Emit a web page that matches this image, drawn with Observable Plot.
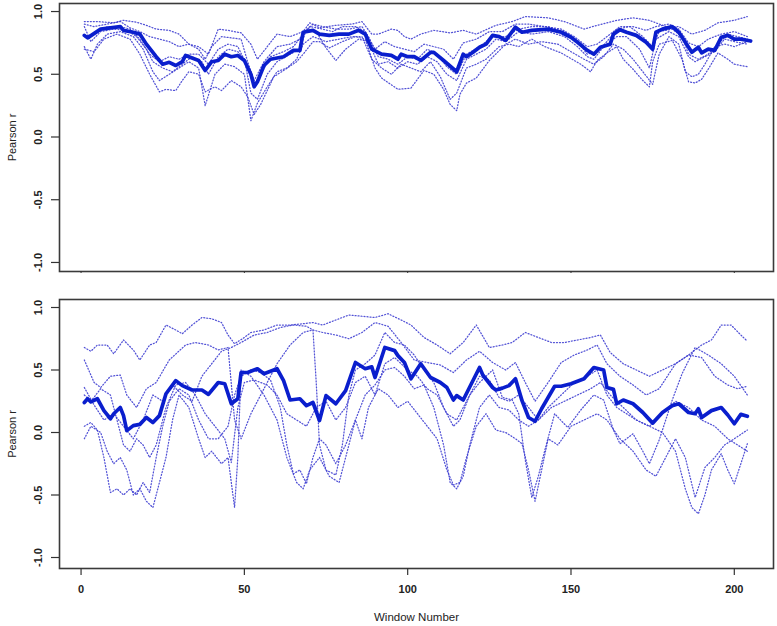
<!DOCTYPE html>
<html><head><meta charset="utf-8">
<script src="https://cdn.jsdelivr.net/npm/d3@7"></script>
<script src="https://cdn.jsdelivr.net/npm/@observablehq/plot@0.6"></script>
<style>
html,body{margin:0;padding:0;background:#fff;}
#chart svg{display:block;}
</style></head><body><div id="chart"></div>
<script>
// ---- shared tick values ----
const windowTicks = [0, 50, 100, 150, 200];
const rTicks = [-1, -0.5, 0, 0.5, 1];
const yLabel = "Pearson r";
const xLabel = "Window Number";

// ---- TOP PANEL: mean (thick) ----
const topMean = [[1,0.81],[2,0.79],[6,0.86],[9,0.87],[12,0.88],[13,0.85],[16,0.835],[18,0.82],[20,0.74],[23,0.64],[25,0.58],[27,0.595],[29,0.57],[31,0.60],[32,0.65],[34,0.63],[36,0.61],[38,0.53],[40,0.60],[42,0.61],[44,0.66],[46,0.64],[48,0.65],[50,0.61],[52,0.50],[53,0.40],[54,0.44],[56,0.57],[58,0.62],[62,0.64],[65,0.69],[67,0.69],[68,0.835],[71,0.85],[73,0.82],[76,0.81],[79,0.82],[82,0.82],[85,0.85],[87,0.82],[89,0.70],[92,0.66],[95,0.65],[97,0.62],[98,0.66],[100,0.64],[102,0.64],[104,0.61],[107,0.675],[108,0.675],[111,0.61],[115,0.52],[117,0.66],[118,0.64],[120,0.675],[122,0.715],[124,0.74],[126,0.81],[128,0.80],[130,0.77],[133,0.875],[135,0.835],[138,0.85],[143,0.86],[147,0.835],[150,0.795],[152,0.755],[155,0.69],[157,0.66],[159,0.715],[162,0.74],[163,0.82],[165,0.855],[167,0.835],[170,0.81],[173,0.755],[175,0.70],[176,0.835],[178,0.86],[181,0.88],[183,0.835],[185,0.755],[187,0.675],[189,0.715],[190,0.67],[192,0.70],[194,0.69],[196,0.795],[198,0.81],[200,0.78],[202,0.78],[205,0.765]];

// ---- TOP PANEL: individual series (dotted) ----
const topSeries1 = [[1,0.92],[5,0.92],[10,0.91],[13,0.93],[17,0.915],[20,0.89],[23,0.86],[27,0.85],[30,0.82],[33,0.74],[36,0.72],[39,0.66],[42,0.86],[45,0.85],[49,0.83],[52,0.74],[54,0.62],[57,0.72],[60,0.82],[64,0.80],[68,0.84],[70,0.91],[73,0.87],[78,0.89],[83,0.90],[86,0.92],[89,0.82],[91,0.82],[95,0.86],[97,0.85],[99,0.80],[101,0.78],[104,0.82],[108,0.85],[113,0.83],[117,0.85],[121,0.82],[127,0.89],[132,0.92],[136,0.96],[143,0.95],[148,0.92],[154,0.86],[158,0.89],[164,0.93],[169,0.95],[174,0.93],[179,0.88],[183,0.88],[187,0.82],[191,0.85],[195,0.91],[200,0.93],[204,0.96]];
const topSeries2 = [[1,0.90],[4,0.88],[8,0.90],[12,0.92],[15,0.87],[18,0.84],[21,0.80],[24,0.78],[27,0.76],[30,0.72],[33,0.74],[36,0.70],[38,0.62],[40,0.72],[43,0.80],[46,0.79],[49,0.78],[51,0.60],[53,0.45],[56,0.60],[60,0.72],[64,0.74],[67,0.78],[70,0.88],[74,0.86],[77,0.84],[80,0.88],[84,0.88],[87,0.84],[90,0.70],[93,0.76],[96,0.72],[99,0.70],[102,0.68],[105,0.74],[108,0.72],[111,0.70],[114,0.62],[117,0.75],[121,0.78],[125,0.84],[129,0.84],[133,0.90],[137,0.90],[142,0.88],[147,0.86],[151,0.80],[155,0.72],[158,0.74],[162,0.82],[165,0.88],[169,0.88],[173,0.85],[176,0.88],[180,0.90],[183,0.86],[186,0.75],[189,0.72],[192,0.78],[196,0.82],[200,0.84],[204,0.80]];
const topSeries3 = [[1,0.88],[3,0.76],[6,0.84],[10,0.86],[14,0.85],[17,0.80],[20,0.70],[22,0.60],[25,0.55],[28,0.52],[31,0.58],[34,0.64],[37,0.60],[39,0.50],[42,0.64],[45,0.70],[48,0.68],[50,0.62],[52,0.35],[54,0.30],[57,0.50],[60,0.60],[64,0.66],[67,0.70],[69,0.86],[72,0.84],[75,0.71],[78,0.61],[81,0.70],[85,0.78],[88,0.76],[91,0.58],[94,0.60],[97,0.55],[100,0.60],[103,0.58],[106,0.64],[109,0.60],[112,0.50],[115,0.45],[118,0.62],[121,0.66],[124,0.70],[127,0.78],[130,0.76],[134,0.84],[138,0.82],[143,0.84],[148,0.80],[152,0.72],[155,0.64],[157,0.62],[160,0.72],[164,0.80],[167,0.80],[171,0.70],[174,0.55],[176,0.78],[180,0.84],[183,0.80],[186,0.64],[188,0.60],[191,0.64],[194,0.68],[197,0.78],[200,0.76],[204,0.74]];
const topSeries4 = [[1,0.72],[3,0.62],[5,0.74],[8,0.82],[12,0.84],[16,0.80],[19,0.70],[22,0.52],[24,0.45],[27,0.50],[30,0.55],[33,0.60],[36,0.55],[38,0.25],[41,0.50],[44,0.58],[47,0.56],[50,0.50],[52,0.13],[54,0.27],[57,0.40],[60,0.52],[63,0.55],[66,0.62],[68,0.74],[71,0.80],[75,0.76],[79,0.78],[83,0.80],[86,0.80],[89,0.62],[92,0.55],[95,0.50],[98,0.58],[101,0.55],[104,0.52],[107,0.60],[110,0.48],[113,0.30],[115,0.35],[118,0.55],[121,0.58],[124,0.62],[128,0.72],[131,0.74],[134,0.72],[138,0.78],[142,0.72],[147,0.67],[153,0.58],[156,0.52],[158,0.61],[161,0.67],[164,0.72],[166,0.62],[169,0.54],[172,0.45],[174,0.40],[175,0.60],[177,0.74],[181,0.77],[184,0.62],[186,0.44],[188,0.43],[190,0.46],[192,0.54],[195,0.67],[198,0.62],[200,0.58],[204,0.56]];
const topSeries5 = [[1,0.70],[4,0.68],[7,0.78],[11,0.82],[15,0.78],[18,0.66],[21,0.50],[24,0.36],[26,0.38],[29,0.37],[31,0.45],[33,0.52],[36,0.50],[38,0.36],[41,0.40],[43,0.37],[46,0.45],[49,0.40],[51,0.32],[53,0.18],[55,0.26],[57,0.37],[59,0.48],[62,0.53],[66,0.60],[68,0.66],[71,0.76],[73,0.76],[76,0.71],[80,0.76],[84,0.80],[87,0.78],[90,0.55],[92,0.47],[97,0.38],[101,0.39],[103,0.46],[105,0.53],[108,0.50],[111,0.38],[113,0.26],[115,0.21],[116,0.34],[118,0.43],[121,0.47],[125,0.61],[130,0.74],[133,0.78],[137,0.74],[141,0.76],[146,0.74],[150,0.68],[154,0.62],[157,0.58],[160,0.64],[163,0.74],[166,0.70],[169,0.62],[172,0.52],[175,0.42],[177,0.66],[180,0.80],[183,0.74],[185,0.52],[187,0.48],[189,0.50],[191,0.58],[194,0.72],[197,0.74],[200,0.72],[204,0.76]];
const topSeries6 = [[1,0.80],[4,0.82],[8,0.88],[12,0.88],[15,0.86],[18,0.78],[21,0.66],[24,0.60],[27,0.64],[30,0.62],[33,0.66],[36,0.66],[39,0.58],[42,0.70],[45,0.74],[48,0.72],[51,0.56],[53,0.42],[55,0.50],[58,0.64],[62,0.68],[65,0.72],[68,0.82],[71,0.90],[74,0.88],[78,0.86],[82,0.86],[86,0.88],[88,0.80],[91,0.64],[94,0.62],[97,0.58],[100,0.64],[103,0.62],[106,0.70],[109,0.66],[112,0.56],[115,0.50],[118,0.66],[122,0.72],[126,0.80],[130,0.80],[134,0.86],[138,0.88],[143,0.88],[148,0.84],[152,0.76],[155,0.66],[158,0.68],[161,0.76],[164,0.86],[168,0.88],[172,0.80],[175,0.72],[177,0.84],[181,0.86],[184,0.80],[186,0.66],[189,0.62],[192,0.66],[195,0.74],[198,0.82],[201,0.80],[204,0.78]];

// ---- BOTTOM PANEL: mean (thick) ----
const bottomMean = [[1,0.24],[2,0.27],[3,0.245],[5,0.27],[7,0.175],[9,0.11],[10,0.15],[12,0.2],[13,0.135],[14,0.015],[16,0.055],[18,0.065],[20,0.12],[22,0.08],[24,0.135],[26,0.31],[29,0.415],[31,0.375],[34,0.34],[37,0.34],[39,0.305],[42,0.40],[44,0.39],[46,0.23],[48,0.27],[49,0.48],[51,0.48],[54,0.51],[56,0.47],[60,0.51],[62,0.415],[64,0.26],[67,0.27],[69,0.215],[71,0.24],[73,0.096],[75,0.295],[78,0.23],[81,0.335],[84,0.56],[87,0.51],[89,0.525],[90,0.44],[93,0.68],[96,0.655],[97,0.615],[99,0.56],[101,0.43],[104,0.55],[107,0.44],[110,0.40],[112,0.36],[114,0.26],[115,0.295],[117,0.26],[122,0.52],[123,0.46],[126,0.36],[127,0.34],[129,0.355],[131,0.375],[133,0.43],[135,0.255],[137,0.12],[139,0.09],[141,0.19],[145,0.37],[147,0.37],[150,0.39],[154,0.43],[157,0.52],[160,0.50],[161,0.36],[163,0.345],[164,0.23],[166,0.26],[169,0.23],[172,0.16],[175,0.075],[178,0.16],[181,0.215],[183,0.23],[186,0.16],[188,0.15],[189,0.19],[190,0.12],[193,0.175],[196,0.2],[198,0.14],[200,0.07],[202,0.145],[204,0.13]];

// ---- BOTTOM PANEL: individual series (dotted) ----
const bottomSeries1 = [[1,0.68],[3,0.65],[5,0.70],[8,0.70],[10,0.63],[13,0.74],[16,0.66],[18,0.58],[21,0.70],[23,0.72],[26,0.86],[29,0.82],[31,0.79],[34,0.86],[37,0.92],[40,0.91],[43,0.88],[45,0.78],[47,0.71],[50,0.76],[52,0.80],[56,0.82],[60,0.86],[64,0.86],[68,0.87],[71,0.88],[74,0.86],[78,0.90],[82,0.94],[86,0.93],[90,0.92],[94,0.95],[98,0.90],[101,0.86],[105,0.76],[109,0.70],[113,0.63],[117,0.72],[121,0.86],[125,0.68],[129,0.70],[132,0.72],[136,0.80],[140,0.76],[144,0.72],[148,0.72],[152,0.74],[156,0.76],[159,0.78],[162,0.64],[166,0.55],[170,0.50],[174,0.45],[178,0.50],[182,0.55],[186,0.62],[190,0.70],[193,0.74],[196,0.86],[199,0.86],[202,0.78],[204,0.73]];
const bottomSeries2 = [[1,0.58],[4,0.40],[6,0.36],[9,0.45],[12,0.46],[14,0.30],[17,0.20],[20,0.35],[23,0.40],[27,0.58],[32,0.70],[35,0.72],[39,0.70],[42,0.66],[45,0.68],[47,0.10],[49,-0.05],[52,0.15],[56,0.35],[60,0.55],[64,0.70],[68,0.80],[71,0.82],[74,0.80],[78,0.78],[82,0.75],[86,0.80],[90,0.88],[94,0.85],[98,0.72],[102,0.58],[106,0.56],[110,0.54],[114,0.48],[118,0.58],[122,0.65],[126,0.56],[130,0.50],[133,0.56],[136,0.40],[139,0.25],[143,0.40],[147,0.56],[151,0.62],[155,0.66],[158,0.70],[161,0.55],[165,0.45],[169,0.38],[173,0.30],[177,0.35],[182,0.55],[186,0.62],[190,0.60],[194,0.45],[198,0.38],[201,0.35],[204,0.37]];
const bottomSeries3 = [[1,0.36],[4,0.22],[7,0.10],[10,0.15],[13,0.05],[16,-0.05],[19,0.10],[22,0.30],[25,0.25],[28,0.38],[31,0.30],[34,0.25],[37,0.45],[40,0.55],[43,0.65],[46,0.68],[49,0.72],[53,0.78],[57,0.80],[61,0.84],[65,0.86],[69,0.85],[71,0.82],[72,0.40],[73,-0.10],[75,-0.30],[78,-0.34],[80,-0.10],[82,0.30],[84,0.50],[87,0.55],[90,0.62],[93,0.80],[96,0.72],[99,0.70],[102,0.62],[105,0.50],[108,0.40],[111,0.20],[114,0.05],[116,0.10],[119,0.30],[122,0.40],[126,0.50],[129,0.28],[132,0.26],[134,0.15],[136,-0.22],[138,-0.52],[140,-0.35],[142,-0.14],[145,0.15],[149,0.04],[153,0.18],[157,0.30],[160,0.26],[163,0.02],[165,-0.09],[169,-0.01],[172,-0.15],[174,-0.25],[177,-0.06],[181,0.26],[184,0.47],[188,0.68],[192,0.62],[196,0.55],[200,0.45],[204,0.30]];
const bottomSeries4 = [[1,0.05],[3,0.08],[5,0.02],[7,-0.20],[9,-0.48],[11,-0.45],[13,-0.50],[15,-0.45],[17,-0.50],[19,-0.40],[21,-0.48],[23,-0.20],[25,0.05],[27,0.25],[30,0.35],[33,0.30],[36,0.10],[39,-0.05],[42,-0.05],[45,0.05],[47,0.30],[49,0.45],[52,0.50],[55,0.48],[58,0.42],[61,0.20],[63,-0.10],[65,-0.33],[67,-0.30],[69,-0.41],[71,-0.20],[73,-0.05],[75,-0.10],[78,-0.25],[81,-0.10],[84,0.10],[87,0.30],[90,0.38],[93,0.50],[96,0.52],[99,0.45],[102,0.35],[105,0.38],[108,0.20],[111,-0.10],[113,-0.40],[115,-0.45],[117,-0.35],[119,-0.10],[122,0.20],[125,0.30],[128,0.20],[131,0.18],[134,0.10],[137,0.05],[140,0.10],[143,0.20],[147,0.30],[151,0.40],[155,0.45],[158,0.50],[161,0.30],[164,0.20],[167,0.15],[170,0.10],[174,0.05],[178,0.00],[182,-0.15],[185,-0.45],[187,-0.60],[189,-0.65],[191,-0.50],[193,-0.30],[196,-0.17],[198,-0.30],[200,-0.41],[202,-0.25],[204,-0.09]];
const bottomSeries5 = [[1,-0.05],[3,0.05],[6,0.00],[8,-0.15],[10,-0.25],[12,-0.20],[14,-0.30],[16,-0.50],[18,-0.45],[20,-0.55],[22,-0.60],[24,-0.40],[26,-0.20],[28,0.10],[30,0.30],[33,0.20],[36,-0.05],[38,-0.20],[40,-0.15],[43,-0.25],[45,-0.20],[47,-0.60],[48,-0.20],[49,0.50],[52,0.45],[56,0.30],[60,0.10],[63,-0.20],[66,-0.40],[68,-0.45],[70,-0.30],[73,-0.20],[76,-0.35],[79,-0.40],[81,-0.20],[84,0.10],[86,-0.05],[88,0.20],[91,0.35],[94,0.30],[97,0.20],[100,0.25],[103,0.15],[106,0.05],[109,-0.05],[112,-0.30],[114,-0.42],[116,-0.40],[118,-0.20],[121,0.05],[124,0.15],[127,0.02],[130,0.00],[133,-0.05],[135,-0.09],[137,-0.30],[139,-0.55],[141,-0.30],[143,-0.05],[146,-0.10],[150,0.05],[154,0.10],[158,0.15],[161,0.10],[165,-0.05],[169,-0.15],[173,-0.30],[176,-0.35],[179,-0.20],[182,-0.05],[185,-0.20],[188,-0.52],[191,-0.28],[194,-0.20],[197,-0.10],[200,-0.05],[204,0.02]];
const bottomSeries6 = [[1,0.30],[3,0.25],[6,0.35],[9,0.30],[11,0.10],[13,-0.10],[15,-0.15],[17,-0.05],[19,-0.10],[21,-0.20],[23,-0.10],[26,0.20],[29,0.38],[32,0.40],[35,0.30],[38,0.15],[41,0.05],[44,-0.05],[46,-0.24],[48,0.20],[50,0.40],[53,0.42],[57,0.38],[60,0.30],[63,0.15],[66,0.10],[69,0.05],[72,0.20],[75,0.25],[78,0.10],[81,0.20],[84,0.40],[87,0.45],[90,0.30],[93,0.55],[96,0.60],[100,0.50],[103,0.45],[106,0.35],[109,0.30],[112,0.15],[115,0.10],[118,0.25],[122,0.45],[125,0.42],[128,0.28],[131,0.25],[134,0.30],[137,0.20],[140,0.10],[144,0.20],[148,0.25],[152,0.30],[156,0.35],[159,0.40],[162,0.30],[166,0.20],[170,0.10],[174,0.05],[178,0.15],[182,0.25],[186,0.20],[190,0.10],[194,0.05],[198,-0.05],[201,-0.10],[204,-0.15]];

const topDotted = [topSeries1, topSeries2, topSeries3, topSeries4, topSeries5, topSeries6];
const bottomDotted = [bottomSeries1, bottomSeries2, bottomSeries3, bottomSeries4, bottomSeries5, bottomSeries6];

const FONT = "'Liberation Sans', Arial, Helvetica, sans-serif";
const toRows = (pairs, s) => pairs.map(([w, r]) => ({w, r, s}));

function panel({mean, dotted, height, marginTop, marginBottom, yDomain, showXLabels}) {
  const dotRows = dotted.flatMap((p, i) => toRows(p, i));
  const meanRows = toRows(mean, 0);
  const marks = [
    Plot.line(dotRows, {x: "w", y: "r", z: "s", stroke: "#3f3fd2", strokeWidth: 1.25,
      strokeDasharray: "1,2", strokeOpacity: 0.9}),
    Plot.line(meanRows, {x: "w", y: "r", stroke: "#0a1ecd", strokeWidth: 3.7, strokeLinejoin: "round"}),
    Plot.frame({stroke: "#3a3a3a", strokeWidth: 1.6}),
    Plot.axisY(rTicks, {tickSize: 8, fill: "none", stroke: "#333", strokeWidth: 1.2}),
    Plot.text(rTicks, {y: d => d, text: d => d.toFixed(1), frameAnchor: "left", dx: -21, rotate: -90,
      textAnchor: "middle", lineAnchor: "middle", fontWeight: "bold", fontSize: 11, fill: "#222"}),
    Plot.text([yLabel], {text: d => d, frameAnchor: "left", dx: -47, rotate: -90,
      textAnchor: "middle", lineAnchor: "middle", fontSize: 11, fill: "#222"})
  ];
  if (showXLabels) {
    marks.push(Plot.axisX(windowTicks, {tickSize: 7, tickPadding: 10, stroke: "#333", strokeWidth: 1.2,
      fill: "#222", fontWeight: "bold", fontSize: 11, label: null, tickFormat: d => String(d)}));
    marks.push(Plot.text([xLabel], {text: d => d, frameAnchor: "bottom", dy: 49, lineAnchor: "middle",
      fontSize: 11.5, fill: "#222"}));
  } else {
    marks.push(Plot.axisX(windowTicks, {tickSize: 2, fill: "none", stroke: "#333", label: null}));
  }
  return Plot.plot({
    width: 777, height, marginLeft: 59, marginRight: 4, marginTop, marginBottom,
    x: {domain: [-6.6, 212]},
    y: {domain: yDomain},
    style: {fontFamily: FONT, fontSize: "11px", background: "white", color: "#222", overflow: "visible"},
    marks
  });
}

const chart = document.getElementById("chart");
chart.append(panel({mean: topMean, dotted: topDotted, height: 280, marginTop: 3, marginBottom: 9,
  yDomain: [-1.072, 1.064], showXLabels: false}));
chart.append(panel({mean: bottomMean, dotted: bottomDotted, height: 346, marginTop: 19, marginBottom: 58,
  yDomain: [-1.088, 1.064], showXLabels: true}));
</script></body></html>
